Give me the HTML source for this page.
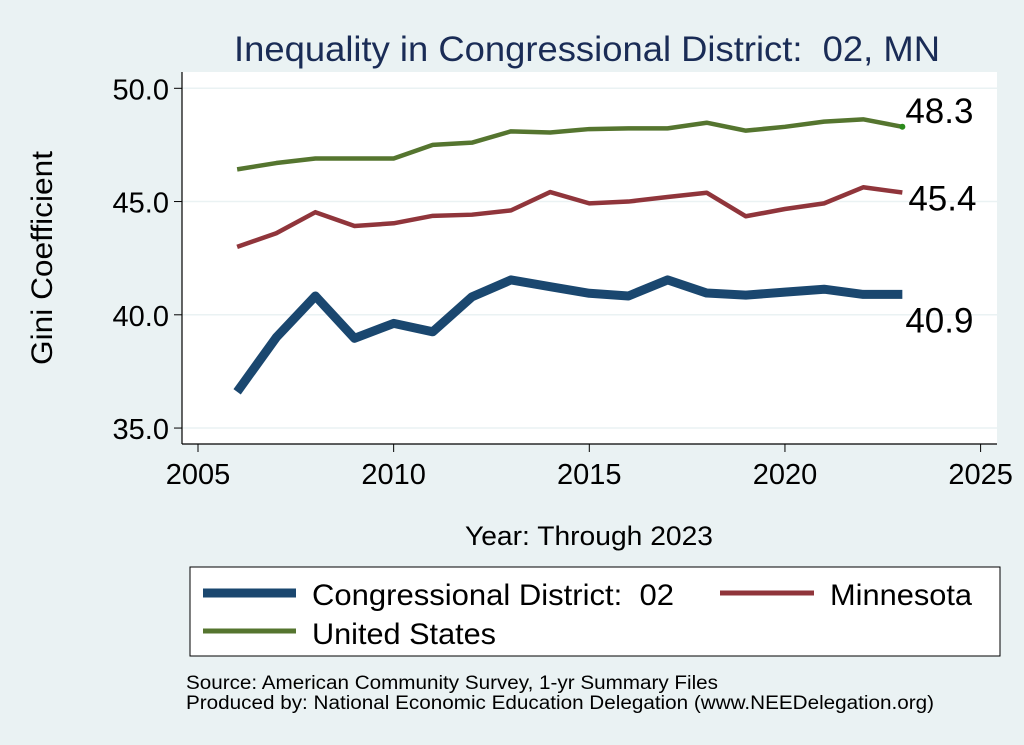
<!DOCTYPE html>
<html><head><meta charset="utf-8"><style>
body{margin:0;background:#eaf2f3;}
svg{display:block;font-family:"Liberation Sans",sans-serif;}
</style></head><body>
<svg id="chart" width="1024" height="745">
<rect x="0" y="0" width="1024" height="745" fill="#eaf2f3"/>
<text x="587" y="61" font-size="35" fill="#1a2c56" text-anchor="middle" textLength="706" lengthAdjust="spacingAndGlyphs">Inequality in Congressional District:&#160; 02, MN</text>
<rect x="182" y="72" width="815" height="372" fill="#fff"/>
<g id="grid"></g>
<g id="axes"></g>
<g id="series"></g>
<text transform="translate(52,258) rotate(-90)" font-size="30" text-anchor="middle" textLength="214" lengthAdjust="spacingAndGlyphs">Gini Coefficient</text>
<text x="589" y="545" font-size="27" text-anchor="middle" textLength="248" lengthAdjust="spacingAndGlyphs">Year: Through 2023</text>
<g>
<rect x="190" y="567" width="810" height="89" fill="#fff" stroke="#000" stroke-width="1"/>
<line x1="203" y1="593" x2="296" y2="593" stroke="#1a476f" stroke-width="9"/>
<text x="312" y="605" font-size="30" textLength="362" lengthAdjust="spacingAndGlyphs">Congressional District:&#160; 02</text>
<line x1="720" y1="593" x2="814" y2="593" stroke="#90353b" stroke-width="5"/>
<text x="830" y="605" font-size="30" textLength="142" lengthAdjust="spacingAndGlyphs">Minnesota</text>
<line x1="203" y1="631" x2="296" y2="631" stroke="#55752f" stroke-width="5"/>
<text x="312" y="644" font-size="30" textLength="184" lengthAdjust="spacingAndGlyphs">United States</text>
</g>
<text x="186" y="689" font-size="19" textLength="532" lengthAdjust="spacingAndGlyphs">Source: American Community Survey, 1-yr Summary Files</text>
<text x="186" y="709" font-size="19" textLength="748" lengthAdjust="spacingAndGlyphs">Produced by: National Economic Education Delegation (www.NEEDelegation.org)</text>
</svg>
<script>
const years=[2006,2007,2008,2009,2010,2011,2012,2013,2014,2015,2016,2017,2018,2019,2020,2021,2022,2023];
const district=[36.6,39.0,40.83,38.96,39.62,39.25,40.79,41.54,41.24,40.95,40.83,41.54,40.96,40.87,41.0,41.13,40.9,40.9];
const minnesota=[43.0,43.6,44.53,43.92,44.04,44.37,44.42,44.61,45.42,44.92,45.0,45.2,45.39,44.35,44.67,44.92,45.63,45.4];
const us=[46.42,46.7,46.9,46.9,46.9,47.5,47.6,48.1,48.05,48.2,48.23,48.23,48.48,48.13,48.3,48.53,48.63,48.3];
const xTicks=[2005,2010,2015,2020,2025];
const yTicks=[35,40,45,50];
const yTickLabels=["35.0","40.0","45.0","50.0"];
const endLabels=["40.9","45.4","48.3"];
const NS="http://www.w3.org/2000/svg";
function xS(v){return 198+(v-2005)*39.13;}
function yS(v){return 88.3+(50-v)*22.65;}
function mk(tag,attrs,parent){const e=document.createElementNS(NS,tag);for(const k in attrs)e.setAttribute(k,attrs[k]);parent.appendChild(e);return e;}
const grid=document.getElementById('grid'),axes=document.getElementById('axes'),ser=document.getElementById('series');
yTicks.forEach((t,i)=>{
  const g=mk('line',{x1:182,x2:997,y1:yS(t),y2:yS(t),stroke:'#eaf2f3','stroke-width':1.5},grid);
  
  
  const tk=mk('line',{x1:174,x2:182,y1:yS(t),y2:yS(t),stroke:'#000','stroke-width':1},axes);
  
  
  const tx=mk('text',{x:169,y:yS(t)+11,'font-size':29,'text-anchor':'end'},axes);
  tx.textContent=yTickLabels[i];
  
  
});
xTicks.forEach(t=>{
  const tk=mk('line',{x1:xS(t),x2:xS(t),y1:444,y2:452,stroke:'#000','stroke-width':1},axes);
  
  
  const tx=mk('text',{x:xS(t),y:484,'font-size':29,'text-anchor':'middle'},axes);
  tx.textContent=t;
  
  
});
const ya=mk('line',{x1:182,x2:182,y1:72,y2:444,stroke:'#000','stroke-width':1.2},axes);


const xa=mk('line',{x1:182,x2:997,y1:444,y2:444,stroke:'#000','stroke-width':1.2},axes);


const defs=[[us,'#55752f',4.5,'line-us'],[minnesota,'#90353b',4.5,'line-minnesota'],[district,'#1a476f',9,'line-district']];
defs.forEach(([vals,col,w,name])=>{
  const p=mk('polyline',{points:vals.map((v,i)=>xS(years[i])+','+yS(v)).join(' '),fill:'none',stroke:col,'stroke-width':w,'stroke-linejoin':'round'},ser);
  
  
});
const dot=mk('circle',{cx:xS(years[years.length-1]),cy:yS(us[us.length-1]),r:3,fill:'#2a8a1a'},ser);


const lastX=xS(years[years.length-1]);
const l1=mk('text',{x:lastX+3,y:yS(district[district.length-1])+38,'font-size':35},ser);
l1.textContent=endLabels[0];


const l2=mk('text',{x:lastX+6,y:yS(minnesota[minnesota.length-1])+18,'font-size':35},ser);
l2.textContent=endLabels[1];


const l3=mk('text',{x:lastX+3,y:yS(us[us.length-1])-4,'font-size':35},ser);
l3.textContent=endLabels[2];


</script>
</body></html>
